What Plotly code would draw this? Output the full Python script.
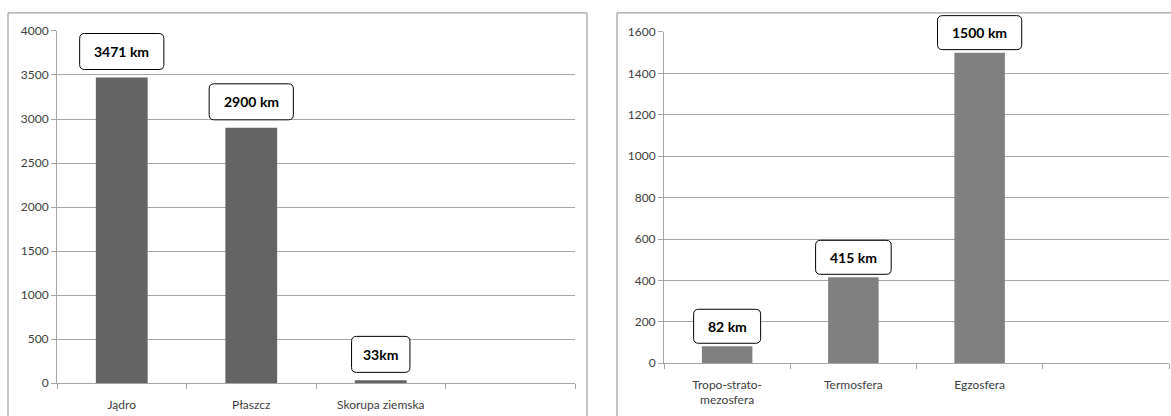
import plotly.graph_objects as go

# ---- data ----
earth_cats = ["Jądro", "Płaszcz", "Skorupa ziemska", " "]
earth_vals = [3471, 2900, 33, None]
earth_labels = ["3471 km", "2900 km", "33km", None]
earth_max = 4000

atm_cats = ["Tropo-strato-<br>mezosfera", "Termosfera", "Egzosfera", " "]
atm_vals = [82, 415, 1500, None]
atm_labels = ["82 km", "415 km", "1500 km", None]
atm_max = 1600

W, H = 1171, 416
FONT = "Lato"

# observed page row = 8.1 + 0.963 * figure row (page margin / capture scaling)
Y_OFF, Y_SCALE = 8.1, 0.963


def fy(p):
    """paper fraction that lands on screen row p"""
    return 1 - ((p - Y_OFF) / Y_SCALE) / H


def fx(p):
    return p / W


fig = go.Figure()
fig.add_trace(go.Bar(x=earth_cats, y=earth_vals, marker=dict(color="#646464", line=dict(width=0)),
                     xaxis="x", yaxis="y", showlegend=False))
fig.add_trace(go.Bar(x=atm_cats, y=atm_vals, marker=dict(color="#808080", line=dict(width=0)),
                     xaxis="x2", yaxis="y2", showlegend=False))

grid = "#a6a6a6"
common_x = dict(type="category", range=[-0.5, 3.5], showline=True, linecolor=grid, linewidth=1,
                ticks="outside", ticklen=5, tickcolor=grid, tickson="boundaries",
                showgrid=False, zeroline=False, fixedrange=True, ticklabelstandoff=10,
                tickfont=dict(family=FONT, size=12, color="#404040"))
common_y = dict(showline=True, linecolor=grid, linewidth=1, ticks="outside", ticklen=5, tickcolor=grid,
                showgrid=True, gridcolor=grid, gridwidth=1, zeroline=False,
                tickfont=dict(family=FONT, size=12, color="#404040"))

fig.update_layout(
    width=W, height=H, margin=dict(l=0, r=0, t=0, b=0),
    paper_bgcolor="white", plot_bgcolor="white", bargap=0.6,
    xaxis=dict(domain=[fx(57), fx(575)], anchor="y", **common_x),
    yaxis=dict(domain=[fy(383), fy(31)], anchor="x", range=[0, earth_max], dtick=500, **common_y),
    xaxis2=dict(domain=[fx(664), fx(1169)], anchor="y2", **common_x),
    yaxis2=dict(domain=[fy(363), fy(32)], anchor="x2", range=[0, atm_max], dtick=200, **common_y),
)

# panel borders
fig.add_shape(type="rect", xref="paper", yref="paper", x0=fx(8), x1=fx(587), y0=-0.1, y1=fy(13),
              line=dict(color="#8c8c8c", width=1), fillcolor="rgba(0,0,0,0)", layer="below")
fig.add_shape(type="rect", xref="paper", yref="paper", x0=fx(617), x1=1.05, y0=-0.1, y1=fy(13),
              line=dict(color="#8c8c8c", width=1), fillcolor="rgba(0,0,0,0)", layer="below")


def rounded_box(w, h, gap, r=5):
    l, R, b, t = -w / 2, w / 2, gap, gap + h
    return (f"M{l + r},{b} L{R - r},{b} Q{R},{b} {R},{b + r} L{R},{t - r} Q{R},{t} {R - r},{t} "
            f"L{l + r},{t} Q{l},{t} {l},{t - r} L{l},{b + r} Q{l},{b} {l + r},{b} Z")


def add_labels(vals, labels, ymax, xref, yref, gap, boxh):
    for i, (v, lab) in enumerate(zip(vals, labels)):
        if v is None or lab is None:
            continue
        w = 24 + 8.6 * len(lab)
        # y reference in axis-domain units so the box is not clipped at the plot top
        fig.add_shape(type="path", xref=xref, yref=f"{yref} domain", xsizemode="pixel", ysizemode="pixel",
                      xanchor=i, yanchor=v / ymax, path=rounded_box(w, boxh, gap),
                      line=dict(color="black", width=1), fillcolor="white", layer="above")
        fig.add_annotation(x=i, y=v, xref=xref, yref=yref, text=f"<b>{lab}</b>", showarrow=False,
                           yanchor="middle", yshift=gap + boxh / 2,
                           font=dict(family=FONT, size=14, color="black"))


add_labels(earth_vals, earth_labels, earth_max, "x", "y", 8, 36)
add_labels(atm_vals, atm_labels, atm_max, "x2", "y2", 3, 34)

fig.write_html("out.html")
